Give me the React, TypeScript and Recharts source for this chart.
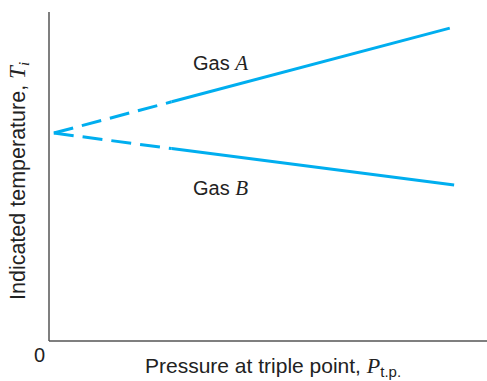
import { LineChart, Line, XAxis, YAxis, Customized } from "recharts";

// Pressure (arbitrary units) vs indicated temperature.
const gasADashed = [
  { p: 1.1, t: 63.2 },
  { p: 28, t: 72.7 },
];
const gasASolid = [
  { p: 28, t: 72.7 },
  { p: 91.5, t: 95.1 },
];
const gasBDashed = [
  { p: 1.1, t: 63.2 },
  { p: 28, t: 58.5 },
];
const gasBSolid = [
  { p: 28, t: 58.5 },
  { p: 92.5, t: 47.4 },
];

const LINE_COLOR = "#00aeef";
const AXIS_COLOR = "#555555";
const FONT = "'Liberation Sans', Arial, sans-serif";
const SERIF = "'Liberation Serif', 'Times New Roman', serif";

function Annotations() {
  return (
    <g>
      <text x={193} y={70} fontFamily={FONT} fontSize={20} fill="#222">
        Gas <tspan fontFamily={SERIF} fontStyle="italic" fontSize={21}>A</tspan>
      </text>
      <text x={193} y={195} fontFamily={FONT} fontSize={20} fill="#222">
        Gas <tspan fontFamily={SERIF} fontStyle="italic" fontSize={21}>B</tspan>
      </text>
      <text x={34} y={362} fontFamily={FONT} fontSize={20} fill="#222">
        0
      </text>
      <text x={145} y={373} fontFamily={FONT} fontSize={21} fill="#222">
        Pressure at triple point,{" "}
        <tspan fontFamily={SERIF} fontStyle="italic" fontSize={22}>P</tspan>
        <tspan fontSize={15} dy={4}>t.p.</tspan>
      </text>
      <text
        transform="translate(25, 300) rotate(-90)"
        x={0}
        y={0}
        fontFamily={FONT}
        fontSize={21.5}
        fill="#222"
      >
        Indicated temperature,{" "}
        <tspan fontFamily={SERIF} fontStyle="italic" fontSize={23}>T</tspan>
        <tspan fontFamily={SERIF} fontStyle="italic" fontSize={15} dy={4}>i</tspan>
      </text>
    </g>
  );
}

export default function App() {
  return (
    <div style={{ position: "absolute", left: 0, top: 0, width: 487, height: 381, background: "#fff" }}>
      <LineChart width={487} height={381} margin={{ top: 12, right: 0, bottom: 0, left: 0 }}>
        <XAxis
          type="number"
          dataKey="p"
          domain={[0, 100]}
          height={40}
          tick={false}
          tickLine={false}
          axisLine={{ stroke: AXIS_COLOR, strokeWidth: 1.5 }}
        />
        <YAxis
          type="number"
          dataKey="t"
          domain={[0, 100]}
          width={49}
          tick={false}
          tickLine={false}
          axisLine={{ stroke: AXIS_COLOR, strokeWidth: 1.5 }}
        />
        <Line data={gasADashed} dataKey="t" stroke={LINE_COLOR} strokeWidth={3} strokeDasharray="20 9" dot={false} isAnimationActive={false} />
        <Line data={gasASolid} dataKey="t" stroke={LINE_COLOR} strokeWidth={3} dot={false} isAnimationActive={false} />
        <Line data={gasBDashed} dataKey="t" stroke={LINE_COLOR} strokeWidth={3} strokeDasharray="20 9" dot={false} isAnimationActive={false} />
        <Line data={gasBSolid} dataKey="t" stroke={LINE_COLOR} strokeWidth={3} dot={false} isAnimationActive={false} />
        <Customized component={Annotations} />
      </LineChart>
    </div>
  );
}
